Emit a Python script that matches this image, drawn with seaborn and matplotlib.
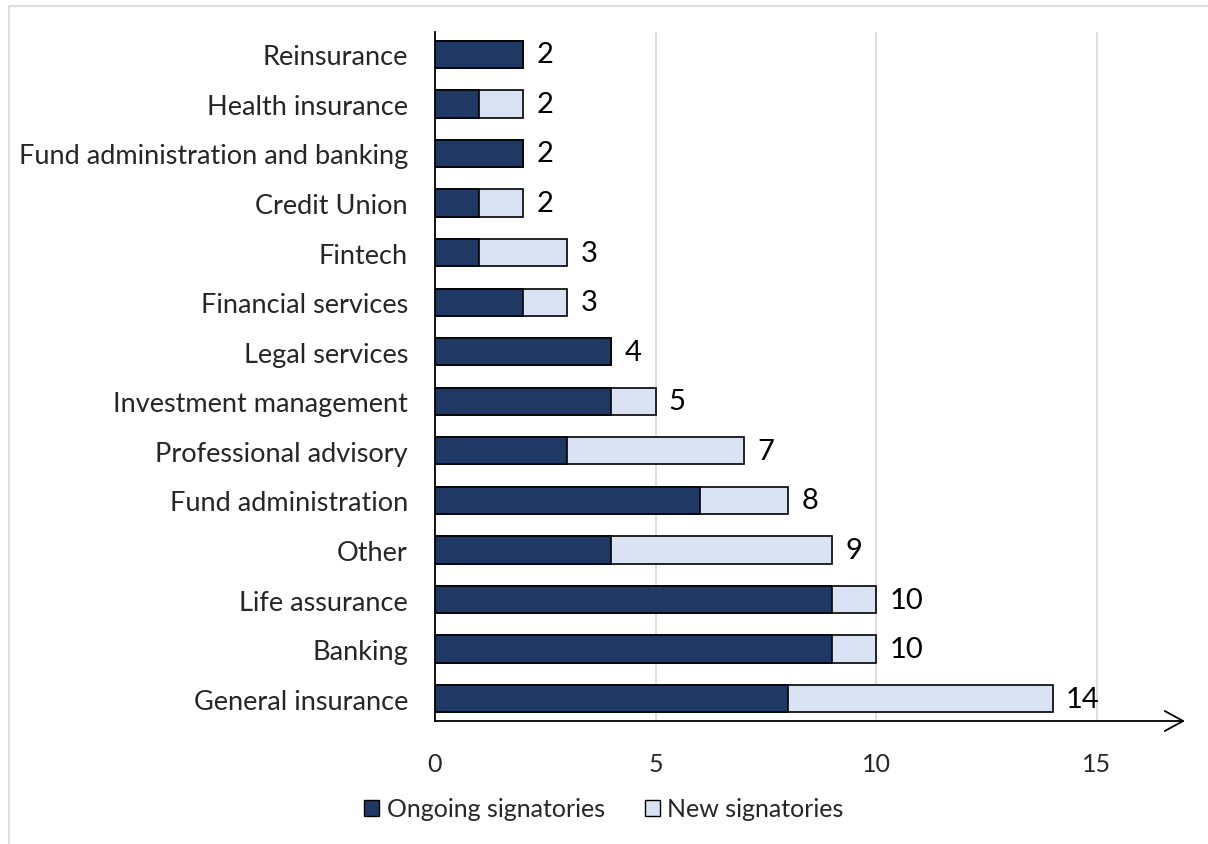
import matplotlib
matplotlib.use("Agg")
import matplotlib.pyplot as plt
import seaborn as sns
import pandas as pd
from matplotlib.patches import Patch
from matplotlib.lines import Line2D

categories = ["Reinsurance", "Health insurance", "Fund administration and banking",
              "Credit Union", "Fintech", "Financial services", "Legal services",
              "Investment management", "Professional advisory", "Fund administration",
              "Other", "Life assurance", "Banking", "General insurance"]
ongoing = [2, 1, 2, 1, 1, 2, 4, 4, 3, 6, 4, 9, 9, 8]
new = [0, 1, 0, 1, 2, 1, 0, 1, 4, 2, 5, 1, 1, 6]
totals = [o + n for o, n in zip(ongoing, new)]
xticks = [0, 5, 10, 15]

dark = "#203864"
light = "#DAE3F3"

sns.set_theme(style="white")
plt.rcParams['font.family'] = ['Lato', 'DejaVu Sans']

df = pd.DataFrame({"category": categories, "ongoing": ongoing, "new": new, "total": totals})

fig = plt.figure(figsize=(12.08, 8.45), dpi=100)
ax = fig.add_axes([435/1208, 1 - 722/845, (1185-435)/1208, (722-33)/845])

sns.barplot(data=df, x="total", y="category", orient="h", color=light,
            edgecolor="black", linewidth=1.2, width=0.55, saturation=1, ax=ax, zorder=3)
sns.barplot(data=df, x="ongoing", y="category", orient="h", color=dark,
            edgecolor="black", linewidth=1.2, width=0.55, saturation=1, ax=ax, zorder=4)

ax.set_xlim(0, 17)
ax.set_ylim(13.45, -0.45)
ax.set_xticks(xticks)
ax.set_xticklabels([str(t) for t in xticks])
ax.set_xlabel("")
ax.set_ylabel("")
for s in ["top", "right", "bottom"]:
    ax.spines[s].set_visible(False)
ax.spines["left"].set_color("black")
ax.spines["left"].set_linewidth(1.3)
ax.spines["left"].set_zorder(5)
for t in xticks[1:]:
    ax.axvline(t, color="#d9d9d9", linewidth=1.2, zorder=1)
ax.tick_params(axis="x", length=0, pad=22, labelsize=18)
ax.tick_params(axis="y", length=0, pad=19.5, labelsize=19.5)

# x axis arrow
ax.annotate("", xy=(1.0, 0), xytext=(0, 0), xycoords="axes fraction",
            arrowprops=dict(arrowstyle="->,head_length=1.1,head_width=0.6",
                            color="black", lw=1.3, shrinkA=0, shrinkB=0),
            annotation_clip=False)

for i, tot in enumerate(totals):
    ax.text(tot + 0.3, i, str(tot), va="center", ha="left", fontsize=21, color="black")

handles = [Patch(facecolor=dark, edgecolor="black", label="Ongoing signatories"),
           Patch(facecolor=light, edgecolor="black", label="New signatories")]
fig.legend(handles=handles, loc="center", bbox_to_anchor=(0.5, 1 - 810/845), ncol=2,
           frameon=False, fontsize=18, handlelength=0.6, handleheight=0.6,
           handletextpad=0.3, columnspacing=1.6)

# light grey frame (left and top edges visible)
fig.add_artist(Line2D([9/1208, 9/1208], [0, 1 - 7/845], transform=fig.transFigure,
                      color="#d9d9d9", linewidth=1.2))
fig.add_artist(Line2D([9/1208, 1], [1 - 7/845, 1 - 7/845], transform=fig.transFigure,
                      color="#d9d9d9", linewidth=1.2))

fig.savefig("out.png", dpi=100)
